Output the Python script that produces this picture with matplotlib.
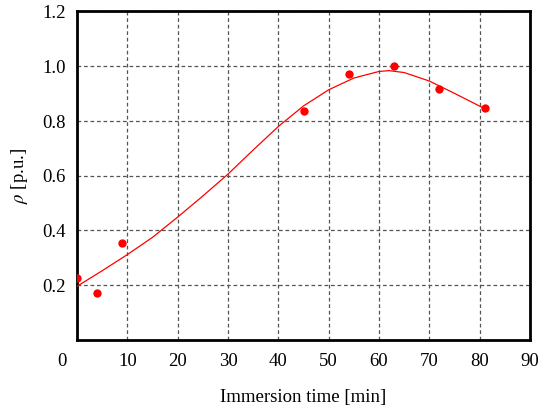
import matplotlib
matplotlib.use("Agg")
import matplotlib.pyplot as plt

# Measured data points
time_pts = [0, 4, 9, 45, 54, 63, 72, 81]
rho_pts = [0.225, 0.173, 0.353, 0.838, 0.971, 1.002, 0.916, 0.846]

# Fitted curve
fit_t = [0, 5, 10, 15, 20, 25, 30, 35, 40, 45, 50, 55, 60, 62, 65, 70, 75, 81]
fit_rho = [0.196, 0.253, 0.312, 0.375, 0.449, 0.526, 0.606, 0.694, 0.780, 0.855,
           0.914, 0.957, 0.981, 0.984, 0.977, 0.946, 0.901, 0.845]

xticks = [0, 10, 20, 30, 40, 50, 60, 70, 80, 90]
yticks = [0.2, 0.4, 0.6, 0.8, 1.0, 1.2]

plt.rcParams['font.family'] = ['Liberation Serif', 'DejaVu Serif']
plt.rcParams['mathtext.fontset'] = 'stix'

fig = plt.figure(figsize=(5.42, 4.11), dpi=100)
ax = fig.add_axes([77/542, 1 - 340/411, (530 - 77)/542, (340 - 11.5)/411])

ax.plot(fit_t, fit_rho, color='red', linewidth=0.9, zorder=3,
        solid_joinstyle='round')
ax.plot(time_pts, rho_pts, 'o', color='red', markersize=6, zorder=4,
        markeredgewidth=0)

ax.set_xlim(0, 90)
ax.set_ylim(0, 1.2)
ax.set_xticks(xticks)
ax.set_yticks(yticks)
ax.set_xticklabels([''] + [str(v) for v in xticks[1:]])
ax.set_yticklabels([f"{v:.1f}" for v in yticks])
ax.annotate('0', xy=(0, 0), xycoords='data', xytext=(-11, -9),
            textcoords='offset points', ha='center', va='top', fontsize=13.5)

ax.tick_params(axis='both', length=0, labelsize=13.5)
ax.tick_params(axis='x', pad=9)
ax.tick_params(axis='y', pad=8)

ax.grid(True, color='#555555', linestyle=(0, (3, 2.2)), linewidth=0.9)
for s in ax.spines.values():
    s.set_linewidth(2)
    s.set_color('black')

ax.set_xlabel('Immersion time [min]', fontsize=13.5, labelpad=14)
ax.set_ylabel(r'$\rho$ [p.u.]', fontsize=13.5, labelpad=9)

fig.savefig('out.png', dpi=100)
